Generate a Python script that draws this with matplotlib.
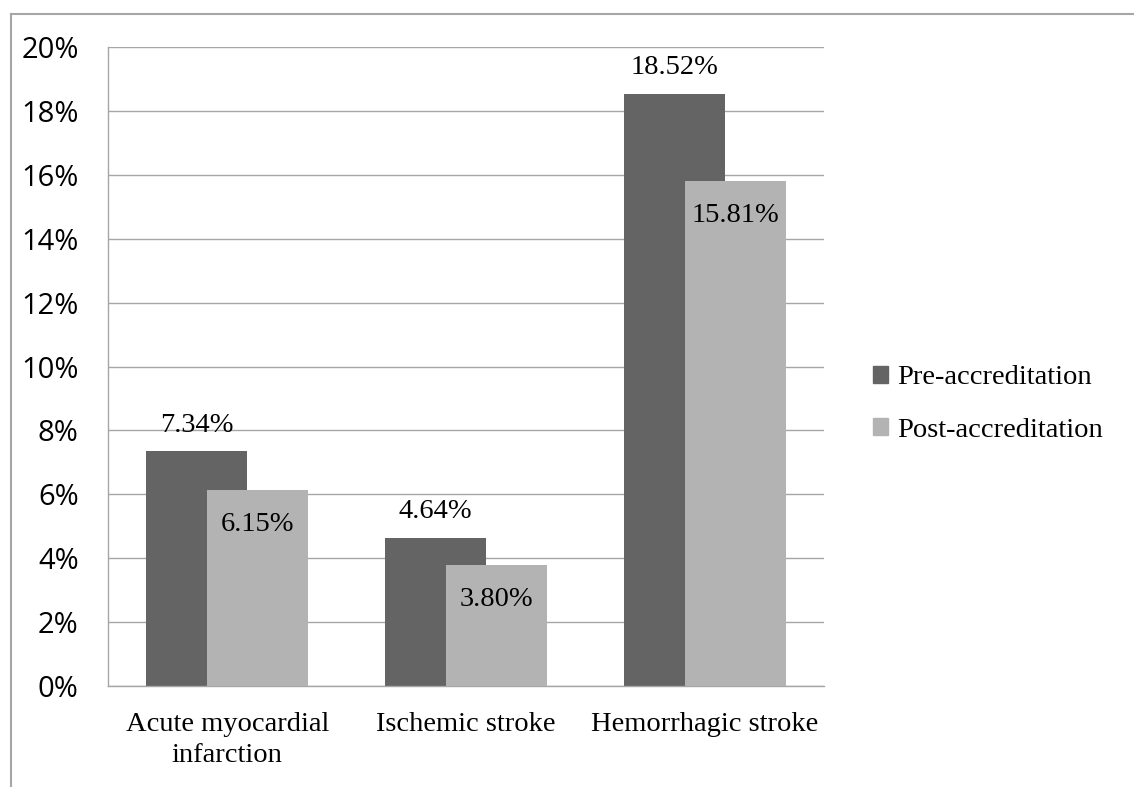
import numpy as np
import matplotlib.pyplot as plt
from matplotlib.lines import Line2D
from matplotlib.patches import Patch

# data
categories = ['Acute myocardial\ninfarction', 'Ischemic stroke', 'Hemorrhagic stroke']
pre_vals = [7.34, 4.64, 18.52]
post_vals = [6.15, 3.80, 15.81]
series_names = ['Pre-accreditation', 'Post-accreditation']
yticks = [0, 2, 4, 6, 8, 10, 12, 14, 16, 18, 20]

pre_color = '#646464'
post_color = '#b3b3b3'
grid_color = '#a6a6a6'
serif = 'Liberation Serif'
sans = 'Open Sans'
fs = 20.5

fig = plt.figure(figsize=(11.34, 7.87), dpi=100)
ax = fig.add_axes([108 / 1134, 101 / 787, 716 / 1134, 639 / 787])

x = np.arange(len(categories))
w = 0.423
off = 0.128
ax.bar(x - off, pre_vals, w, color=pre_color, zorder=2)
ax.bar(x + off, post_vals, w, color=post_color, zorder=3)

# value labels: pre above the bar, post inside the top
for i in range(len(x)):
    ax.annotate(f'{pre_vals[i]:.2f}%', (x[i] - off, pre_vals[i]), xytext=(0, 19),
                textcoords='offset points', ha='center', va='center',
                fontfamily=serif, fontsize=fs, zorder=4)
    ax.annotate(f'{post_vals[i]:.2f}%', (x[i] + off, post_vals[i]), xytext=(0, -25),
                textcoords='offset points', ha='center', va='center',
                fontfamily=serif, fontsize=fs, zorder=4)

ax.set_xlim(-0.5, 2.5)
ax.set_ylim(0, 20)
ax.set_yticks(yticks)
ax.set_yticklabels([f'{t}%' for t in yticks], fontfamily=sans, fontsize=21)
ax.set_xticks(x)
ax.set_xticklabels(categories, fontfamily=serif, fontsize=fs, linespacing=1.3)
ax.tick_params(axis='y', length=0, pad=21)
ax.tick_params(axis='x', length=0, pad=19)
ax.yaxis.grid(True, color=grid_color, linewidth=1.0, zorder=0)
ax.set_axisbelow(True)
for s in ['top', 'right']:
    ax.spines[s].set_visible(False)
for s in ['left', 'bottom']:
    ax.spines[s].set_color(grid_color)
    ax.spines[s].set_linewidth(1.0)

handles = [Patch(color=pre_color), Patch(color=post_color)]
leg = fig.legend(handles, series_names, loc='center left',
                 bbox_to_anchor=(847 / 1134, 1 - 404 / 787), frameon=False,
                 handlelength=0.55, handleheight=0.55, handletextpad=0.3,
                 labelspacing=0.95, prop={'family': serif, 'size': fs})

# cropped outer chart border
bx = 11 / 1134
by = 1 - 14 / 787
fig.add_artist(Line2D([bx, bx], [0, by], color=grid_color, linewidth=1.5))
fig.add_artist(Line2D([bx, 1], [by, by], color=grid_color, linewidth=1.5))

fig.savefig('out.png', dpi=100)
